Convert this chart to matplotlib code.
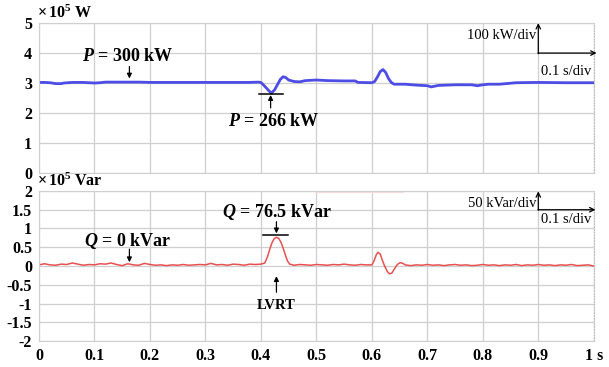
import matplotlib
matplotlib.use("Agg")
import matplotlib.pyplot as plt

plt.rcParams['font.family'] = ['Liberation Serif', 'DejaVu Serif']
plt.rcParams['mathtext.fontset'] = 'custom'
plt.rcParams['mathtext.rm'] = 'Liberation Serif:bold'
plt.rcParams['mathtext.it'] = 'Liberation Serif:italic:bold'
plt.rcParams['mathtext.bf'] = 'Liberation Serif:bold'

# ---- data ----
t_P = [0.00, 0.01, 0.02, 0.03, 0.04, 0.045, 0.06, 0.08, 0.10, 0.11, 0.12, 0.15, 0.18,
       0.20, 0.25, 0.30, 0.35, 0.38, 0.395, 0.40, 0.405, 0.41, 0.415, 0.419, 0.425,
       0.43, 0.435, 0.44, 0.445, 0.45, 0.46, 0.47, 0.48, 0.50, 0.52, 0.55, 0.57,
       0.575, 0.60, 0.605, 0.61, 0.615, 0.62, 0.625, 0.63, 0.635, 0.64, 0.66, 0.68,
       0.70, 0.707, 0.72, 0.75, 0.78, 0.79, 0.80, 0.81, 0.83, 0.86, 0.90, 0.95, 1.00]
P = [3.02, 3.02, 3.01, 2.98, 2.98, 3.00, 3.02, 3.02, 3.00, 3.01, 3.03, 3.03, 3.03,
     3.02, 3.02, 3.02, 3.02, 3.02, 3.03, 3.02, 2.93, 2.83, 2.73, 2.66, 2.78,
     2.95, 3.12, 3.21, 3.18, 3.10, 3.05, 3.04, 3.08, 3.10, 3.08, 3.07, 3.07,
     3.02, 3.01, 3.05, 3.20, 3.38, 3.45, 3.35, 3.15, 3.02, 2.96, 2.96, 2.93,
     2.91, 2.87, 2.92, 2.94, 2.94, 2.91, 2.94, 2.96, 2.96, 3.01, 3.02, 3.01, 3.01]

t_Q = [0.00, 0.01, 0.02, 0.03, 0.04, 0.05, 0.06, 0.07, 0.08, 0.09, 0.10, 0.11, 0.12,
       0.13, 0.14, 0.15, 0.16, 0.17, 0.18, 0.19, 0.20, 0.21, 0.22, 0.23, 0.24, 0.25,
       0.26, 0.27, 0.28, 0.29, 0.30, 0.31, 0.32, 0.33, 0.34, 0.35, 0.36, 0.37, 0.38,
       0.39, 0.40, 0.407, 0.412, 0.416, 0.42, 0.424, 0.428, 0.432, 0.436, 0.44,
       0.444, 0.448, 0.452, 0.46, 0.47, 0.48, 0.49, 0.50, 0.51, 0.52, 0.53, 0.54,
       0.55, 0.56, 0.57, 0.58, 0.59, 0.60, 0.604, 0.608, 0.611, 0.615, 0.619,
       0.623, 0.628, 0.632, 0.636, 0.641, 0.646, 0.651, 0.656, 0.66, 0.67, 0.68,
       0.69, 0.70, 0.71, 0.72, 0.73, 0.74, 0.75, 0.76, 0.77, 0.78, 0.79, 0.80,
       0.81, 0.82, 0.83, 0.84, 0.85, 0.86, 0.87, 0.88, 0.89, 0.90, 0.91, 0.92,
       0.93, 0.94, 0.95, 0.96, 0.97, 0.98, 0.99, 1.00]
Q = [0.03, 0.06, 0.03, 0.02, 0.05, 0.04, 0.08, 0.05, 0.02, 0.04, 0.03, 0.06, 0.05,
     0.08, 0.04, 0.01, 0.06, 0.03, 0.02, 0.07, 0.04, 0.02, 0.03, 0.01, 0.03, 0.02,
     0.04, 0.02, 0.03, 0.04, 0.03, 0.07, 0.03, 0.04, 0.02, 0.05, 0.04, 0.02, 0.05,
     0.04, 0.05, 0.08, 0.25, 0.45, 0.62, 0.73, 0.765, 0.74, 0.64, 0.48,
     0.30, 0.13, 0.05, 0.02, 0.04, 0.03, 0.02, 0.04, 0.03, 0.02, 0.04, 0.03,
     0.05, 0.03, 0.02, 0.04, 0.03, 0.03, 0.14, 0.30, 0.365, 0.32, 0.15,
     0.00, -0.15, -0.21, -0.19, -0.07, 0.04, 0.09, 0.07, 0.03, 0.01, 0.03,
     0.02, 0.04, 0.02, 0.03, 0.01, 0.03, 0.04, 0.02, 0.03, 0.01, 0.02, 0.04,
     0.02, 0.03, 0.01, 0.03, 0.02, 0.04, 0.01, 0.03, 0.02, 0.04, 0.02, 0.03,
     0.01, 0.03, 0.02, 0.04, 0.01, 0.02, 0.03, 0.00]

t_artifact = [0.497, 0.656]
Q_artifact = [1.985, 1.985]

x_ticks = [0, 0.1, 0.2, 0.3, 0.4, 0.5, 0.6, 0.7, 0.8, 0.9, 1.0]
x_labels = ['0', '0.1', '0.2', '0.3', '0.4', '0.5', '0.6', '0.7', '0.8', '0.9', '1 s']
P_ticks = [0, 1, 2, 3, 4, 5]
Q_ticks = [-2, -1.5, -1, -0.5, 0, 0.5, 1, 1.5, 2]
Q_labels = ['-2', '-1.5', '-1', '-0.5', '0', '0.5', '1', '1.5', '2']

# ---- figure ----
fig = plt.figure(figsize=(6.09, 3.67), dpi=100)
ax1 = fig.add_axes([0.064, 0.529, 0.911, 0.408])
ax2 = fig.add_axes([0.064, 0.0708, 0.911, 0.4088])

grid_c = '#cfcfcf'
for ax in (ax1, ax2):
    ax.set_xlim(0, 1)
    ax.set_xticks(x_ticks)
    ax.grid(True, color=grid_c, linewidth=0.9)
    ax.set_axisbelow(True)
    for s in ('left', 'bottom', 'top'):
        ax.spines[s].set_color(grid_c)
    ax.spines['right'].set_color('#bbbbbb')
    ax.spines['right'].set_linestyle((0, (1, 1.5)))
    ax.tick_params(length=0, pad=5, labelsize=11.5)

# top
ax1.plot(t_P, P, color='#4d4de6', linewidth=2.0)
ax1.set_ylim(0, 5)
ax1.set_yticks(P_ticks)
ax1.set_yticklabels([str(v) for v in P_ticks], fontweight='bold')
ax1.set_xticklabels([])
ax1.text(-0.003, 5.05, r'$\times\, 10^5$ W', fontsize=11.5, fontweight='bold',
         ha='left', va='bottom')

ax1.text(0.16, 3.87, r'$P$ = 300 kW', fontsize=13, fontweight='bold',
         ha='center', va='center')
ax1.annotate('', xy=(0.163, 3.15), xytext=(0.163, 3.55),
             arrowprops=dict(arrowstyle='-|>', color='black', lw=0.9,
                             mutation_scale=7, shrinkA=0, shrinkB=0))
ax1.plot([0.397, 0.440], [2.62, 2.62], color='black', linewidth=1.1)
ax1.annotate('', xy=(0.4175, 2.6), xytext=(0.4175, 2.17),
             arrowprops=dict(arrowstyle='-|>', color='black', lw=0.9,
                             mutation_scale=7, shrinkA=0, shrinkB=0))
ax1.text(0.424, 1.72, r'$P$ = 266 kW', fontsize=13, fontweight='bold',
         ha='center', va='center')

ax1.annotate('', xy=(0.9, 5.0), xytext=(0.9, 3.98),
             arrowprops=dict(arrowstyle='->', color='black', lw=0.9,
                             mutation_scale=8, shrinkA=0, shrinkB=0),
             annotation_clip=False)
ax1.annotate('', xy=(1.005, 4.0), xytext=(0.8995, 4.0),
             arrowprops=dict(arrowstyle='->', color='black', lw=0.9,
                             mutation_scale=8, shrinkA=0, shrinkB=0),
             annotation_clip=False)
ax1.text(0.896, 4.6, '100 kW/div', fontsize=10.5, ha='right', va='center')
ax1.text(0.95, 3.4, '0.1 s/div', fontsize=10.5, ha='center', va='center')

# bottom
ax2.plot(t_Q, Q, color='#e85050', linewidth=1.1)
ax2.plot(t_artifact, Q_artifact, color='#fadada', linewidth=0.7)
ax2.set_ylim(-2, 2)
ax2.set_yticks(Q_ticks)
ax2.set_yticklabels(Q_labels, fontweight='bold')
ax2.set_xticklabels(x_labels, fontweight='bold')
ax2.text(-0.003, 2.03, r'$\times\, 10^5$ Var', fontsize=11.5, fontweight='bold',
         ha='left', va='bottom')

ax2.text(0.16, 0.67, r'$Q$ = 0 kVar', fontsize=13, fontweight='bold',
         ha='center', va='center')
ax2.annotate('', xy=(0.163, 0.1), xytext=(0.163, 0.45),
             arrowprops=dict(arrowstyle='-|>', color='black', lw=0.9,
                             mutation_scale=7, shrinkA=0, shrinkB=0))
ax2.text(0.428, 1.45, r'$Q$ = 76.5 kVar', fontsize=13, fontweight='bold',
         ha='center', va='center')
ax2.plot([0.404, 0.449], [0.83, 0.83], color='black', linewidth=1.1)
ax2.annotate('', xy=(0.428, 0.87), xytext=(0.428, 1.18),
             arrowprops=dict(arrowstyle='-|>', color='black', lw=0.9,
                             mutation_scale=7, shrinkA=0, shrinkB=0))
ax2.annotate('', xy=(0.428, -0.27), xytext=(0.428, -0.7),
             arrowprops=dict(arrowstyle='-|>', color='black', lw=0.9,
                             mutation_scale=7, shrinkA=0, shrinkB=0))
ax2.text(0.428, -1.04, 'LVRT', fontsize=10.5, fontweight='bold',
         ha='center', va='center')

ax2.annotate('', xy=(0.9, 1.99), xytext=(0.9, 1.49),
             arrowprops=dict(arrowstyle='->', color='black', lw=0.9,
                             mutation_scale=8, shrinkA=0, shrinkB=0),
             annotation_clip=False)
ax2.annotate('', xy=(1.003, 1.5), xytext=(0.8995, 1.5),
             arrowprops=dict(arrowstyle='->', color='black', lw=0.9,
                             mutation_scale=8, shrinkA=0, shrinkB=0),
             annotation_clip=False)
ax2.text(0.896, 1.67, '50 kVar/div', fontsize=10.5, ha='right', va='center')
ax2.text(0.95, 1.25, '0.1 s/div', fontsize=10.5, ha='center', va='center')

fig.savefig('out.png', dpi=100)
